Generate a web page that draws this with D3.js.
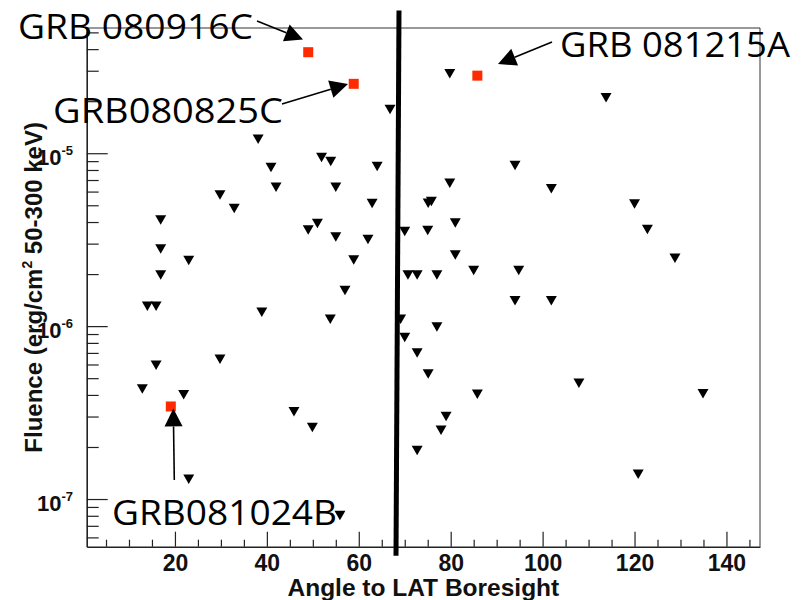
<!DOCTYPE html>
<html>
<head>
<meta charset="utf-8">
<script src="https://cdn.jsdelivr.net/npm/d3@7"></script>
<style>
  body { margin: 0; background: #fff; }
  svg { display: block; }
</style>
</head>
<body>
<svg id="chart" width="801" height="600"></svg>
<script>
// GBM bursts in the LAT field of view without LAT detection (upper limits)
const ulAngle = [66.8, 38.1, 40.9, 51.9, 53.9, 64.0, 42.0, 55.0, 29.8, 32.9,
    62.9, 16.9, 79.8, 113.8, 79.8, 75.1, 75.8, 81.0, 51.0, 49.0,
    70.0, 75.0, 55.0, 62.0, 94.0, 101.9, 120.0, 122.8, 16.9, 23.0,
    58.9, 81.0, 128.8, 85.0, 94.8, 70.7, 72.7, 77.0, 16.9, 57.0,
    94.0, 101.9, 14.0, 15.9, 38.9, 53.8, 69.1, 77.0, 70.0, 72.7,
    29.8, 15.9, 75.1, 107.9, 12.9, 21.9, 85.8, 134.9, 45.9, 79.0,
    49.9, 77.9, 72.7, 120.8, 23.0, 55.9]
const ulFluence = [1.83e-5, 1.23e-5, 8.45e-6, 9.65e-6, 9.15e-6, 8.56e-6, 6.50e-6, 6.50e-6, 5.86e-6, 4.89e-6,
    5.23e-6, 4.20e-6, 2.94e-5, 2.14e-5, 6.85e-6, 5.25e-6, 5.37e-6, 4.03e-6, 4.01e-6, 3.67e-6,
    3.60e-6, 3.65e-6, 3.35e-6, 3.24e-6, 8.67e-6, 6.36e-6, 5.19e-6, 3.70e-6, 2.85e-6, 2.45e-6,
    2.46e-6, 2.63e-6, 2.52e-6, 2.14e-6, 2.14e-6, 2.02e-6, 2.02e-6, 2.02e-6, 2.02e-6, 1.64e-6,
    1.43e-6, 1.43e-6, 1.33e-6, 1.33e-6, 1.23e-6, 1.12e-6, 1.12e-6, 1.01e-6, 8.79e-7, 7.13e-7,
    6.56e-7, 6.07e-7, 5.40e-7, 4.78e-7, 4.42e-7, 4.10e-7, 4.12e-7, 4.15e-7, 3.27e-7, 3.07e-7,
    2.65e-7, 2.55e-7, 1.95e-7, 1.42e-7, 1.33e-7, 8.19e-8]

// LAT detected bursts
const grbName = ["GRB 080916C", "GRB080825C", "GRB 081215A", "GRB081024B"]
const grbAngle = [49.0, 58.9, 85.8, 19.1]
const grbFluence = [3.84e-5, 2.52e-5, 2.81e-5, 3.43e-7]

// thick vertical cut line (top, bottom)
const cutAngle = [68.75, 68.1]
const cutFluence = [6.7e-5, 4.7e-8]

const xMajor = [20, 40, 60, 80, 100, 120, 140]
const yMajor = [1e-7, 1e-6, 1e-5]
const yExp = ["-7", "-6", "-5"]

const xTitle = "Angle to LAT Boresight"

// label box + arrow (start -> tip) for each burst, in pixels
const notes = [
    {tx: 18, ty: 39, tw: 235, ax: 257, ay: 21, bx: 303, by: 39.5},
    {tx: 53, ty: 123, tw: 230, ax: 282, ay: 104, bx: 348, by: 84},
    {tx: 560, ty: 57, tw: 230, ax: 552, ay: 42, bx: 498, by: 64},
    {tx: 112, ty: 525, tw: 225, ax: 174.3, ay: 480, bx: 173.3, by: 408.5}
]

var plotL = 86.7, plotR = 760, plotT = 28, plotB = 546.7

var svg = d3.select("#chart")
svg.append("rect").attr("width", 801).attr("height", 600).attr("fill", "white")

var x = d3.scaleLinear().domain([0.8, 147.3]).range([plotL, plotR])
var y = d3.scaleLog().domain([5.3e-8, 5.3e-5]).range([plotB, plotT])

var xMinor = d3.range(5, 150, 5).filter(v => xMajor.indexOf(v) < 0)
var yMinor = []
for (var e = -8; e <= -5; e++) {
    for (var m = 2; m <= 9; m++) {
        var v = m * Math.pow(10, e)
        if (v > y.domain()[0] && v < y.domain()[1]) yMinor.push(v)
    }
}

// frame
svg.append("line").attr("x1", plotL).attr("x2", plotR).attr("y1", plotT).attr("y2", plotT)
    .attr("stroke", "#333").attr("stroke-width", 1)
svg.append("line").attr("x1", plotR).attr("x2", plotR).attr("y1", plotT).attr("y2", plotB)
    .attr("stroke", "#333").attr("stroke-width", 1)

// x axis
var gxm = svg.append("g").attr("transform", "translate(0," + plotB + ")")
    .call(d3.axisBottom(x).tickValues(xMinor).tickSize(-7).tickSizeOuter(0).tickFormat(""))
gxm.select(".domain").remove()
var gx = svg.append("g").attr("transform", "translate(0," + plotB + ")")
    .call(d3.axisBottom(x).tickValues(xMajor).tickSize(-15).tickSizeOuter(0).tickPadding(8))
gx.selectAll("text").attr("font-family", "'Liberation Sans', Arial, sans-serif")
    .attr("font-weight", "bold").attr("font-size", 23).attr("fill", "#111")

// y axis
var gym = svg.append("g").attr("transform", "translate(" + plotL + ",0)")
    .call(d3.axisLeft(y).tickValues(yMinor).tickSize(-12).tickSizeOuter(0).tickFormat(""))
gym.select(".domain").remove()
var gy = svg.append("g").attr("transform", "translate(" + plotL + ",0)")
    .call(d3.axisLeft(y).tickValues(yMajor).tickSize(-21).tickSizeOuter(0).tickFormat(""))

svg.selectAll(".tick line").attr("stroke", "#222").attr("stroke-width", 1.2)
svg.selectAll(".domain").attr("stroke", "#222").attr("stroke-width", 1.6)

var ylab = svg.append("g")
    .attr("font-family", "'Liberation Sans', Arial, sans-serif")
    .attr("font-weight", "bold").attr("fill", "#111")
    .selectAll("text").data(yMajor).enter().append("text")
    .attr("x", 73).attr("y", d => y(d) + 11.5)
    .attr("text-anchor", "end")
ylab.append("tspan").attr("font-size", 22).text("10")
ylab.append("tspan").attr("font-size", 13).attr("dy", -10).text((d, i) => yExp[i])

// axis titles
svg.append("text").attr("x", (plotL + plotR) / 2).attr("y", 596)
    .attr("text-anchor", "middle")
    .attr("font-family", "'Liberation Sans', Arial, sans-serif")
    .attr("font-weight", "bold").attr("font-size", 24.5).attr("fill", "#111")
    .text(xTitle)

var yt = svg.append("text")
    .attr("transform", "translate(42," + (plotT + plotB) / 2 + ") rotate(-90)")
    .attr("text-anchor", "middle")
    .attr("font-family", "'Liberation Sans', Arial, sans-serif")
    .attr("font-weight", "bold").attr("font-size", 24).attr("fill", "#111")
yt.append("tspan").text("Fluence (erg/cm")
yt.append("tspan").attr("font-size", 14).attr("dy", -10).text("2")
yt.append("tspan").attr("dy", 10).text(" 50-300 keV)")

// upper limits: down triangles
var tri = d3.symbol().type(d3.symbolTriangle).size(52)
svg.append("g").selectAll("path")
    .data(ulAngle.map((a, i) => ({a: a, f: ulFluence[i]})))
    .enter().append("path")
    .attr("d", tri)
    .attr("transform", d => "translate(" + x(d.a) + "," + y(d.f) + ") rotate(180)")
    .attr("fill", "black")

// detected bursts: red squares
svg.append("g").selectAll("rect")
    .data(grbAngle.map((a, i) => ({a: a, f: grbFluence[i]})))
    .enter().append("rect")
    .attr("x", d => x(d.a) - 5).attr("y", d => y(d.f) - 5)
    .attr("width", 10).attr("height", 10)
    .attr("fill", "#ff2a00")

// cut line
svg.append("line")
    .attr("x1", x(cutAngle[0])).attr("y1", y(cutFluence[0]))
    .attr("x2", x(cutAngle[1])).attr("y2", y(cutFluence[1]))
    .attr("stroke", "black").attr("stroke-width", 5)

// annotations
var ann = svg.append("g")
notes.forEach(function (n, i) {
    ann.append("text").attr("x", n.tx).attr("y", n.ty)
        .attr("font-family", "'Comic Sans MS', 'Open Sans', sans-serif")
        .attr("font-size", 35).attr("fill", "black")
        .attr("textLength", n.tw).attr("lengthAdjust", "spacingAndGlyphs")
        .text(grbName[i])
    var dx = n.bx - n.ax, dy = n.by - n.ay
    var len = Math.sqrt(dx * dx + dy * dy)
    var ux = dx / len, uy = dy / len
    var hl = 18, hw = 9
    var bx = n.bx - ux * hl, by = n.by - uy * hl
    ann.append("line").attr("x1", n.ax).attr("y1", n.ay).attr("x2", bx).attr("y2", by)
        .attr("stroke", "black").attr("stroke-width", 1.6)
    ann.append("path")
        .attr("d", "M" + n.bx + "," + n.by +
            "L" + (bx - uy * hw) + "," + (by + ux * hw) +
            "L" + (bx + uy * hw) + "," + (by - ux * hw) + "Z")
        .attr("fill", "black")
})
</script>
</body>
</html>
